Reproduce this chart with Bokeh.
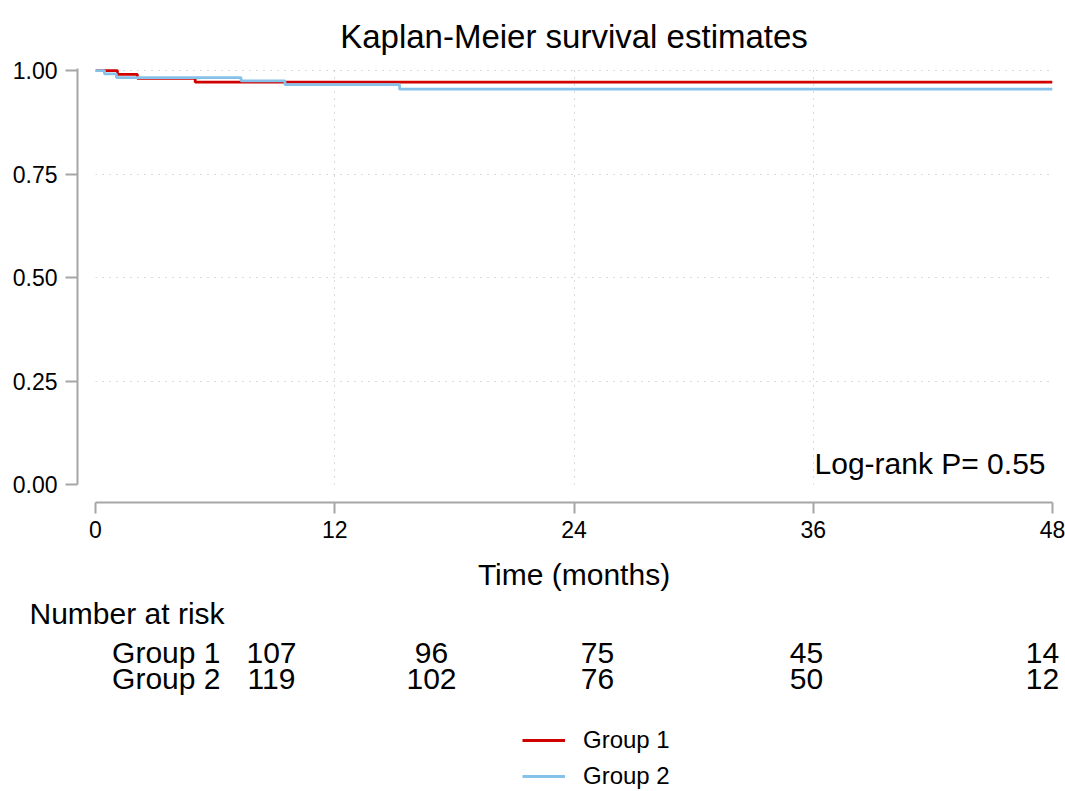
from bokeh.plotting import figure
from bokeh.models import Range1d, LinearAxis, FixedTicker, Label, Legend, LegendItem, ColumnDataSource
from bokeh.core.properties import value
from bokeh.embed import file_html
from bokeh.resources import INLINE

# ---------------- data ----------------
g1_time = [0, 1.1, 2.1, 5.0, 48]
g1_surv = [1.0, 0.991, 0.981, 0.972, 0.972]
g2_time = [0, 0.45, 1.05, 7.3, 9.5, 15.25, 48]
g2_surv = [1.0, 0.992, 0.983, 0.975, 0.966, 0.955, 0.955]

groups = ["Group 1", "Group 2"]
risk_times = [0, 12, 24, 36, 48]
risk_g1 = [107, 96, 75, 45, 14]
risk_g2 = [119, 102, 76, 50, 12]

x_ticks = [0, 12, 24, 36, 48]
y_ticks = [0, 0.25, 0.5, 0.75, 1.0]
y_tick_labels = ["0.00", "0.25", "0.50", "0.75", "1.00"]
y_grid_ticks = [0.25, 0.5, 0.75, 1.0]

title_text = "Kaplan-Meier survival estimates"
x_label = "Time (months)"
risk_header = "Number at risk"
logrank_text = "Log-rank P= 0.55"

# ---------------- style / layout ----------------
FONT = "Liberation Sans"
RED = "#d00000"
BLUE = "#85c1e9"
AXC = "#a6a6a6"
LW = 2.8
W = 1065
H1 = 593
H2 = 197
FL, FR = 95, 1052          # frame left / right (page px)
FT, FB = 68, 484           # frame top / bottom (page px)
logrank_pos = (48, 0.05)
risk_col_x = [271, 431, 597, 806, 1042]   # page pixel centers of the risk columns
risk_row_y = [652, 678]
risk_label_x = 220
risk_header_pos = (29, 613)
legend_left = 522

# ---------------- main plot ----------------
p = figure(width=W, height=H1, x_range=Range1d(0, 48), y_range=Range1d(0, 1.005),
           output_backend="svg", toolbar_location=None,
           x_axis_location=None, y_axis_location=None,
           min_border_left=FL, min_border_right=W - FR, min_border_top=FT, min_border_bottom=H1 - FB,
           outline_line_color=None, background_fill_color="white", border_fill_color="white")

p.title.text = title_text
p.title.text_font = FONT
p.title.text_font_size = "33px"
p.title.text_font_style = "normal"
p.title.text_color = "black"
p.title.align = "center"
p.title.offset = 0
p.title.standoff = 28

p.xgrid.ticker = FixedTicker(ticks=x_ticks)
p.ygrid.ticker = FixedTicker(ticks=y_grid_ticks)
for g in (p.xgrid, p.ygrid):
    g.grid_line_color = "#b4b4b4"
    g.grid_line_dash = "1 6"
    g.grid_line_width = 1


def spacer(size):
    # an invisible axis that only reserves room, so the visible axis sits offset from the frame
    return LinearAxis(ticker=FixedTicker(ticks=[0]), major_label_overrides={0: ""},
                      axis_line_color=None, major_tick_line_color="white",
                      minor_tick_line_color=None, major_label_text_font_size="1px",
                      major_tick_out=size, major_tick_in=0, minor_tick_out=0, minor_tick_in=0,
                      major_label_standoff=0)


def style_axis(ax, tick_out, standoff):
    ax.axis_line_color = AXC
    ax.axis_line_width = 2
    ax.major_tick_line_color = AXC
    ax.major_tick_line_width = 2
    ax.major_tick_out = tick_out
    ax.major_tick_in = 0
    ax.minor_tick_line_color = None
    ax.major_label_standoff = standoff
    ax.major_label_text_font = FONT
    ax.major_label_text_font_size = "23px"
    ax.major_label_text_color = "black"


p.add_layout(spacer(18), "left")
yax = LinearAxis(ticker=FixedTicker(ticks=y_ticks),
                 major_label_overrides={t: l for t, l in zip(y_ticks, y_tick_labels)})
style_axis(yax, 12, 8)
p.add_layout(yax, "left")

p.add_layout(spacer(18), "below")
xax = LinearAxis(ticker=FixedTicker(ticks=x_ticks), axis_label=x_label)
style_axis(xax, 11, 7)
xax.axis_label_text_font = FONT
xax.axis_label_text_font_size = "30px"
xax.axis_label_text_font_style = "normal"
xax.axis_label_text_color = "black"
xax.axis_label_standoff = 17
p.add_layout(xax, "below")

p.step(g1_time, g1_surv, mode="after", line_color=RED, line_width=LW)
p.step(g2_time, g2_surv, mode="after", line_color=BLUE, line_width=LW)

p.add_layout(Label(x=logrank_pos[0], y=logrank_pos[1], x_offset=-7, text=logrank_text,
                   text_align="right", text_baseline="middle",
                   text_font=FONT, text_font_size="30px", text_color="black"))

# ---------------- risk table + legend (separate root, frame = whole canvas) ----------------
q = figure(width=W, height=H2, x_range=Range1d(0, W), y_range=Range1d(H1 + H2, H1),
           output_backend="svg", toolbar_location=None,
           x_axis_location=None, y_axis_location=None, min_border=0,
           min_border_left=0, min_border_right=0, min_border_top=0, min_border_bottom=0,
           outline_line_color=None, background_fill_color="white", border_fill_color="white")
q.xgrid.visible = False
q.ygrid.visible = False

tstyle = dict(text_baseline="middle", text_font=value(FONT), text_font_size="30px", text_color="black")
q.text(x=[risk_header_pos[0]], y=[risk_header_pos[1]], text=[risk_header], text_align="left", **tstyle)
q.text(x=[risk_label_x] * 2, y=risk_row_y, text=groups, text_align="right", **tstyle)
nums = ColumnDataSource(dict(
    x=risk_col_x + risk_col_x,
    y=[risk_row_y[0]] * len(risk_times) + [risk_row_y[1]] * len(risk_times),
    t=[str(v) for v in risk_g1] + [str(v) for v in risk_g2],
))
q.text(x="x", y="y", text="t", source=nums, text_align="center", **tstyle)

nan = float("nan")
r1 = q.line(x=[nan], y=[nan], line_color=RED, line_width=LW)
r2 = q.line(x=[nan], y=[nan], line_color=BLUE, line_width=LW)
legend = Legend(items=[LegendItem(label=groups[0], renderers=[r1]),
                       LegendItem(label=groups[1], renderers=[r2])],
                location=(legend_left, 0), orientation="vertical",
                glyph_width=43, glyph_height=24, label_standoff=18, spacing=8,
                padding=0, margin=0, border_line_color=None, background_fill_alpha=0,
                label_text_font=FONT, label_text_font_size="24px", label_text_color="black")
q.add_layout(legend)

open("out.html", "w").write(file_html([p, q], INLINE))
